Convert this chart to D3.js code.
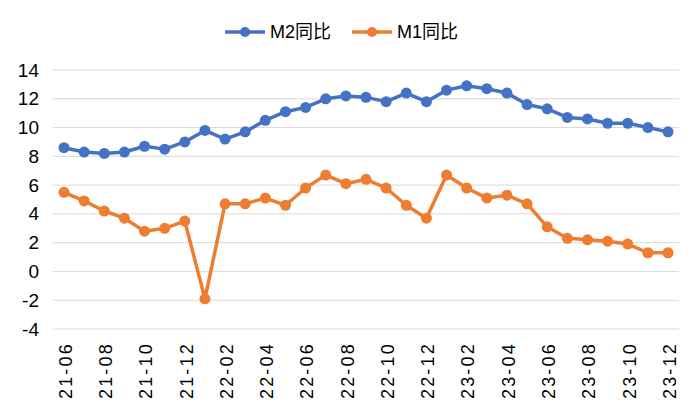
<!DOCTYPE html>
<html><head><meta charset="utf-8">
<script src="https://cdn.jsdelivr.net/npm/d3@7"></script>
<style>body{margin:0;background:#fff}svg{display:block;font-family:"Liberation Sans",Arial,"Noto Sans CJK SC",sans-serif}</style>
</head><body>
<script>
const months = ["21-06","21-07","21-08","21-09","21-10","21-11","21-12","22-01","22-02","22-03","22-04","22-05","22-06","22-07","22-08","22-09","22-10","22-11","22-12","23-01","23-02","23-03","23-04","23-05","23-06","23-07","23-08","23-09","23-10","23-11","23-12"];
const m2 = [8.6,8.3,8.2,8.3,8.7,8.5,9.0,9.8,9.2,9.7,10.5,11.1,11.4,12.0,12.2,12.1,11.8,12.4,11.8,12.6,12.9,12.7,12.4,11.6,11.3,10.7,10.6,10.3,10.3,10.0,9.7];
const m1 = [5.5,4.9,4.2,3.7,2.8,3.0,3.5,-1.9,4.7,4.7,5.1,4.6,5.8,6.7,6.1,6.4,5.8,4.6,3.7,6.7,5.8,5.1,5.3,4.7,3.1,2.3,2.2,2.1,1.9,1.3,1.3];
const yTicks = [-4,-2,0,2,4,6,8,10,12,14];
const seriesNames = ["M2同比","M1同比"];
const colors = ["#4472C4","#ED7D31"];

const W=700,H=420;
const svg=d3.select("body").append("svg").attr("width",W).attr("height",H);
const plotL=53, plotR=679;
const x=d3.scalePoint().domain(months).range([64,668]);
const y=d3.scaleLinear().domain([-4,14]).range([329,70]);

// gridlines
svg.append("g").selectAll("line").data(yTicks).join("line")
  .attr("x1",plotL).attr("x2",plotR).attr("y1",d=>y(d)).attr("y2",d=>y(d))
  .attr("stroke","#d9d9d9").attr("stroke-width",1);

// y axis labels
const yAxis=d3.axisLeft(y).tickValues(yTicks).tickSize(0).tickPadding(0).tickFormat(d=>String(d));
const yg=svg.append("g").attr("transform",`translate(39,0)`).call(yAxis);
yg.select(".domain").remove();
yg.selectAll("text").attr("font-size",19).attr("fill","#000").attr("font-family","Liberation Sans, Arial, sans-serif");

// x axis labels
const xLab=months.filter((d,i)=>i%2===0);
const xAxis=d3.axisBottom(x).tickValues(xLab).tickSize(0).tickPadding(0);
const xg=svg.append("g").attr("transform",`translate(0,${y(-4)})`).call(xAxis);
xg.select(".domain").remove();
xg.selectAll("text").attr("font-size",18).attr("fill","#000")
  .attr("font-family","Liberation Sans, Arial, sans-serif")
  .attr("letter-spacing","2.2px")
  .attr("text-anchor","end").attr("dy","0.35em")
  .attr("transform","translate(1,13) rotate(-90)").attr("x",0).attr("y",0);

// lines
const data=[m2,m1];
data.forEach((s,k)=>{
  const line=d3.line().x((d,i)=>x(months[i])).y(d=>y(d));
  svg.append("path").datum(s).attr("d",line).attr("fill","none")
    .attr("stroke",colors[k]).attr("stroke-width",3.5).attr("stroke-linejoin","round");
  svg.append("g").selectAll("circle").data(s).join("circle")
    .attr("cx",(d,i)=>x(months[i])).attr("cy",d=>y(d)).attr("r",5.5).attr("fill",colors[k]);
});

// legend
const legX=[225,352];
seriesNames.forEach((n,k)=>{
  const g=svg.append("g").attr("transform",`translate(${legX[k]},32)`);
  g.append("line").attr("x1",0).attr("x2",40).attr("stroke",colors[k]).attr("stroke-width",3.5);
  g.append("circle").attr("cx",20).attr("r",5).attr("fill",colors[k]);
  g.append("text").attr("x",45).attr("dy","0.35em").attr("font-size",18).attr("fill","#000").text(n);
});
</script>
</body></html>
